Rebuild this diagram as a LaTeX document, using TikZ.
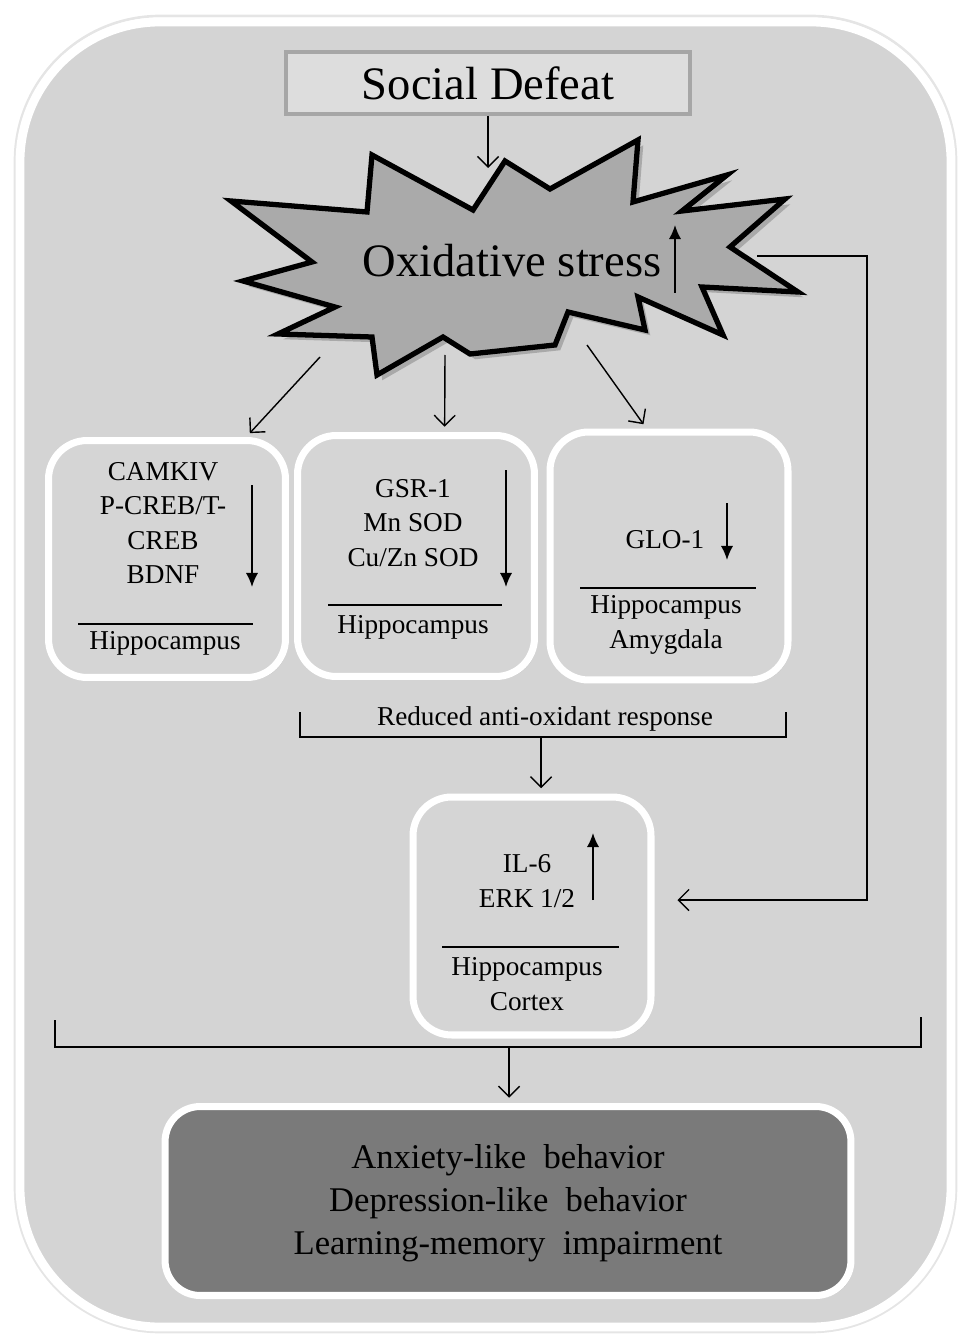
\documentclass[tikz,border=0pt]{standalone}
\usepackage{fontspec}
\setmainfont{Liberation Serif}
\usetikzlibrary{arrows.meta, shadows, positioning}
\definecolor{panelgray}{RGB}{212,212,212}
\definecolor{boxgray}{RGB}{213,213,213}
\definecolor{defeatgray}{RGB}{221,221,221}
\definecolor{defeatedge}{RGB}{166,166,166}
\definecolor{stargray}{RGB}{170,170,170}
\definecolor{outcomegray}{RGB}{122,122,122}

\begin{document}
\begin{tikzpicture}[x=0.02cm, y=-0.02cm,
    font=\fontsize{15.5}{19.5}\selectfont,
    region/.style={draw=white, line width=4pt, fill=boxgray, rounded corners=22pt,
      drop shadow={shadow xshift=1.5pt, shadow yshift=-1.5pt, opacity=0.3}},
    conn/.style={line width=0.8pt, -{Straight Barb[length=6pt,width=12pt]}},
    trend/.style={line width=1pt, -{Latex[length=8pt,width=7pt]}},
    seprule/.style={line width=1pt},
    bracketline/.style={line width=0.8pt},
    txt/.style={align=center, inner sep=0pt},
    big/.style={font=\fontsize{26.5}{32}\selectfont}]

    \useasboundingbox (0,0) rectangle (958,1334);

    % panel
    \draw[black!10, line width=1.5pt, rounded corners=2.9cm] (15,16) rectangle (956,1332);
    \draw[white, line width=5pt, fill=panelgray, rounded corners=2.8cm] (20,22) rectangle (951,1327);

    % trigger
    \node[big, draw=defeatedge, line width=2.2pt, fill=defeatgray, minimum width=8.08cm, minimum height=1.24cm] (sd) at (488,83) {Social Defeat};

    % stress burst
    \draw[line width=3pt, fill=stargray, drop shadow={shadow xshift=3pt, shadow yshift=-3pt, opacity=0.5}]
      (231,201) -- (367,212) -- (372,155) -- (473,210) -- (505,161) -- (550,189)
      -- (638,140) -- (633,202) -- (727,175) -- (682,211) -- (785,199) -- (730,247)
      -- (798,292) -- (702,287) -- (723,335) -- (638,297) -- (645,330) -- (568,312)
      -- (555,345) -- (470,354) -- (443,337) -- (377,375) -- (372,337) -- (278,334)
      -- (335,307) -- (243,281) -- (312,262) -- cycle;
    \node[big] (os) at (512,261) {Oxidative stress};
    \draw[trend] (675,293) -- (675,225);

    \coordinate (osin) at (488,168);
    \coordinate (os1) at (320,357);
    \coordinate (os2) at (445,355);
    \coordinate (os3) at (587,345);
    \coordinate (os4) at (757,256);

    % regions
    \node[region, minimum width=4.74cm, minimum height=4.74cm] (b1) at (167,559) {};
    \node[region, minimum width=4.74cm, minimum height=4.82cm] (b2) at (416,556) {};
    \node[region, minimum width=4.76cm, minimum height=4.96cm] (b3) at (669,556) {};
    \node[region, minimum width=4.76cm, minimum height=4.76cm] (b4) at (532,916) {};
    \node[region, fill=outcomegray, rounded corners=20pt, minimum width=13.72cm, minimum height=3.78cm] (out) at (508,1201) {};

    \draw[conn] (sd.south) -- (osin);
    \draw[conn, shorten >=3pt] (os1) -- (b1.57);
    \draw[conn, shorten >=3pt] (os2) -- (b2.77);
    \draw[conn, shorten >=3pt] (os3) -- (b3.100);
    \draw[conn] (os4) -- ++(110,0) |- ([shift={(0.46cm,0.32cm)}]b4.east);

    % box 1
    \node[txt] (b1top) at (163,523) {CAMKIV\\P-CREB/T-\\CREB\\BDNF};
    \draw[trend] (252,485) -- (252,587);
    \draw[seprule] (78,624) -- (253,624);
    \node[txt] (b1loc) at (165,643) {Hippocampus};

    % box 2
    \node[txt] (b2top) at (413,523) {GSR-1\\Mn SOD\\Cu/Zn SOD};
    \draw[trend] (506,470) -- (506,587);
    \draw[seprule] (328,605) -- (502,605);
    \node[txt] (b2loc) at (413,627) {Hippocampus};

    % box 3
    \node[txt] (b3top) at (665,540) {GLO-1};
    \draw[trend] (727,503) -- (727,560);
    \draw[seprule] (580,588) -- (756,588);
    \node[txt] (b3loc) at (666,625) {Hippocampus\\Amygdala};

    % bracket 1
    \draw[bracketline] (300,712) |- (786,737) -- (786,712);
    \node[txt] (ar) at (545,719) {Reduced anti-oxidant response};
    \coordinate (br1) at (541,737);
    \draw[conn, shorten >=3pt] (br1) -- (br1 |- b4.north);

    % box 4
    \node[txt] (b4top) at (527,881) {IL-6\\ERK 1/2};
    \draw[trend] (593,900) -- (593,833);
    \draw[seprule] (442,947) -- (619,947);
    \node[txt] (b4loc) at (527,984) {Hippocampus\\Cortex};

    % bracket 2
    \draw[bracketline] (55,1020) |- (921,1047) -- (921,1017);
    \coordinate (br2) at (509,1047);
    \draw[conn, shorten >=3pt] (br2) -- (br2 |- out.north);

    % outcome
    \node[txt, font=\fontsize{19.7}{24.4}\selectfont] (outtxt) at (508,1203)
      {Anxiety-like\ \ behavior\\Depression-like\ \ behavior\\Learning-memory\ \ impairment};

\end{tikzpicture}
\end{document}
